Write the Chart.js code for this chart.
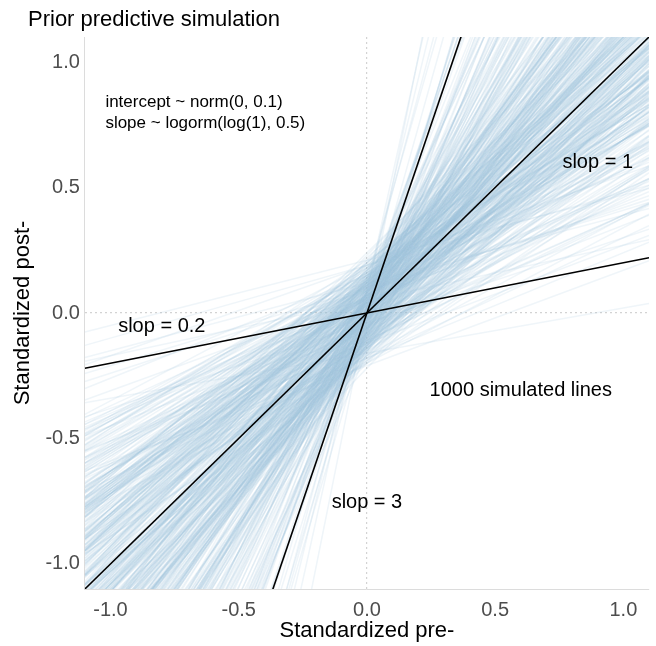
<!DOCTYPE html>
<html>
<head>
<meta charset="utf-8">
<title>Prior predictive simulation</title>
<script src="https://cdn.jsdelivr.net/npm/chart.js@4.4.1/dist/chart.umd.min.js"></script>
<style>
  html, body { margin: 0; padding: 0; background: #ffffff; }
  canvas { display: block; }
</style>
</head>
<body>
<canvas id="myChart" width="656" height="646"></canvas>
<script>
// Pendientes de las rectas simuladas (slope ~ lognormal)
const slopes = [
  1.12, 0.84, 1.47, 0.63, 2.10, 0.95, 1.03, 0.71, 1.88, 0.52, 1.26, 0.99,
  0.78, 1.61, 0.91, 2.54, 1.18, 0.67, 1.35, 0.88, 0.44, 1.07, 1.72, 0.81,
  1.29, 0.58, 1.94, 1.01, 0.74, 3.12, 0.93, 1.15, 0.69, 1.42, 0.86, 1.23,
  0.97, 2.31, 0.62, 1.09, 1.53, 0.77, 0.36, 1.38, 1.05, 0.89, 2.02, 0.73,
  1.19, 0.55, 1.66, 0.94, 1.31, 0.82, 2.77, 1.00, 0.66, 1.49, 0.87, 1.14,
  0.48, 1.81, 1.08, 0.76, 1.24, 0.92, 3.65, 0.70, 1.57, 1.02, 0.83, 1.36,
  1.11, 0.60, 2.19, 0.96, 1.44, 0.79, 1.17, 0.41, 1.68, 0.90, 1.27, 0.64,
  1.04, 1.98, 0.75, 1.33, 0.85, 2.45, 1.13, 0.57, 1.21, 0.98, 1.59, 0.72,
  0.31, 1.40, 0.88, 1.06, 1.76, 0.68, 1.25, 0.93, 2.63, 0.80, 1.16, 0.59,
  1.32, 0.99, 1.85, 0.74, 1.10, 0.50, 1.51, 0.86, 4.21, 1.03, 0.65, 1.39,
  0.91, 1.20, 0.54, 1.63, 0.97, 2.08, 0.78, 1.28, 0.46, 1.12, 1.74, 0.84,
  1.07, 0.69, 1.45, 0.95, 2.86, 0.81, 1.19, 0.61, 1.35, 1.01, 0.89, 1.92,
  0.73, 1.14, 0.39, 1.56, 1.04, 0.77, 2.26, 0.94, 1.30, 0.56, 1.09, 1.70,
  0.87, 1.23, 0.66, 3.38, 1.00, 0.83, 1.48, 0.71, 1.16, 0.96, 2.14, 0.62,
  1.37, 0.79, 1.06, 0.49, 1.83, 0.92, 1.22, 0.68, 1.60, 1.02, 0.85, 2.40,
  0.58, 1.13, 0.90, 1.41, 0.75, 1.96, 1.08, 0.34, 1.27, 0.98, 1.65, 0.80,
  1.18, 0.63, 2.58, 0.88, 1.34, 1.05, 0.53, 1.52, 0.93, 1.79, 0.70, 1.11,
  0.97, 1.43, 0.76, 2.05, 1.15, 0.60, 1.26, 0.86, 3.02, 1.03, 0.72, 1.55,
  0.82, 1.08, 0.45, 1.67, 0.95, 1.31, 0.67, 2.22, 0.99, 1.20, 0.57, 1.46,
  1.24, 0.74, 1.89, 0.91, 0.43, 1.38, 1.06, 0.84, 2.69, 0.64, 1.17, 0.89,
  0.94, 1.36, 0.71, 1.09, 2.33, 0.58, 1.21, 0.86, 1.62, 0.27, 1.03, 0.79,
  1.48, 0.92, 0.65, 1.27, 1.01, 3.48, 0.83, 1.14, 0.52, 1.73, 0.97, 1.30,
  0.69, 1.06, 2.01, 0.88, 1.41, 0.76, 0.22, 1.18, 0.95, 1.58, 0.62, 2.47,
  1.11, 0.81, 1.33, 0.47, 1.00, 1.84, 0.73, 1.25, 0.90, 4.62, 1.07, 0.66,
  1.52, 0.85, 1.16, 0.59, 2.16, 0.98, 1.39, 0.74, 1.04, 0.42, 1.69, 0.89,
  1.23, 0.68, 2.72, 0.93, 1.12, 0.55, 1.46, 0.80, 1.02, 1.95, 0.63, 1.29,
  0.87, 1.19, 0.38, 1.55, 0.96, 2.29, 0.72, 1.08, 1.34, 0.51, 1.77, 0.91,
  1.05, 0.64, 1.43, 0.83, 3.26, 1.13, 0.70, 1.28, 0.18, 0.99, 1.61, 0.78,
  1.37, 0.94, 2.11, 0.61, 1.17, 0.86, 1.50, 0.45, 1.09, 2.52, 0.75, 1.22,
  0.89, 1.32, 0.57, 1.80, 1.01, 0.68, 1.26, 0.93, 3.84, 0.80, 1.14, 0.50,
  1.64, 0.96, 1.10, 0.73, 2.37, 1.03, 0.60, 1.44, 0.85, 1.20, 0.33, 1.91,
  0.77, 1.15, 0.92, 1.57, 0.66, 1.06, 2.64, 0.82, 1.35, 0.54, 1.00, 1.71,
  1.27, 0.71, 1.87, 0.97, 0.40, 1.12, 1.49, 0.79, 2.93, 0.88, 1.18, 0.62,
  1.02, 1.40, 0.69, 1.24, 0.84, 2.06, 0.95, 0.48, 1.31, 1.08, 0.75, 1.66,
  0.90, 2.43, 0.56, 1.16, 1.04, 0.81, 1.54, 0.26, 1.22, 0.94, 1.97, 0.67,
  1.33, 0.86, 1.07, 0.63, 1.75, 0.99, 3.57, 0.77, 1.13, 0.44, 1.42, 0.91,
  0.74, 1.29, 0.96, 2.24, 0.58, 1.11, 0.83, 1.60, 1.01, 0.70, 1.20, 2.81,
  1.45, 0.65, 1.05, 0.89, 1.36, 0.37, 1.82, 0.93, 1.17, 0.79, 2.12, 1.00,
  0.61, 1.25, 0.87, 1.51, 0.72, 5.10, 1.09, 0.54, 1.38, 0.98, 0.82, 1.70,
  1.14, 0.76, 2.35, 0.95, 1.28, 0.60, 1.03, 1.47, 0.84, 0.29, 1.21, 1.90
];

// Interceptos de las mismas rectas (intercept ~ normal)
const intercepts = [
  0.03, -0.12, 0.07, 0.15, -0.04, 0.09, -0.18, 0.01, -0.07, 0.11, -0.02, 0.05,
  -0.09, 0.02, 0.13, -0.06, 0.21, -0.01, 0.08, -0.14, 0.04, -0.10, 0.06, -0.03,
  0.12, -0.05, 0.00, 0.17, -0.11, 0.03, -0.08, 0.10, -0.20, 0.07, -0.02, 0.14,
  -0.06, 0.09, -0.15, 0.04, 0.01, -0.09, 0.19, -0.03, 0.11, -0.13, 0.06, 0.02,
  0.08, -0.17, 0.05, -0.01, 0.13, 0.10, -0.07, 0.24, -0.04, 0.00, -0.12, 0.07,
  -0.02, 0.16, -0.10, 0.03, -0.06, 0.12, 0.01, -0.19, 0.08, -0.05, 0.14, -0.08,
  0.05, -0.03, 0.10, -0.14, 0.02, 0.07, -0.11, 0.15, -0.01, 0.09, -0.06, 0.18,
  -0.13, 0.04, 0.11, -0.07, 0.00, -0.02, 0.20, -0.09, 0.06, 0.13, -0.16, 0.03,
  0.10, -0.04, 0.07, -0.22, 0.05, 0.01, -0.10, 0.12, -0.03, 0.08, -0.13, 0.16,
  -0.01, 0.11, -0.08, 0.04, 0.14, -0.05, 0.02, -0.17, 0.09, -0.12, 0.06, 0.00,
  0.07, -0.10, 0.19, -0.02, 0.05, -0.14, 0.10, 0.03, -0.07, 0.15, 0.01, -0.04,
  -0.11, 0.06, -0.03, 0.12, 0.08, -0.19, 0.04, -0.06, 0.17, -0.01, 0.09, -0.08,
  0.02, 0.13, -0.12, 0.06, -0.09, 0.11, 0.00, 0.22, -0.05, 0.04, -0.15, 0.08,
  0.14, -0.07, 0.03, -0.04, 0.10, 0.05, -0.13, 0.07, -0.02, -0.18, 0.12, 0.01,
  -0.06, 0.09, 0.16, -0.11, 0.02, -0.03, 0.06, 0.13, -0.09, 0.04, 0.20, -0.05,
  0.11, -0.01, -0.16, 0.08, 0.03, -0.08, 0.15, -0.04, 0.05, 0.12, -0.10, 0.00,
  -0.03, 0.07, 0.01, -0.12, 0.18, -0.06, 0.10, 0.02, -0.14, 0.06, -0.02, 0.09,
  0.04, -0.09, 0.13, 0.00, -0.05, 0.17, -0.11, 0.08, 0.03, -0.20, 0.11, -0.07,
  0.09, 0.02, -0.06, 0.14, -0.13, 0.05, 0.21, -0.02, 0.10, -0.08, 0.03, -0.15,
  -0.04, 0.12, 0.06, -0.10, 0.01, 0.08, -0.17, 0.13, -0.01, 0.07, -0.12, 0.04,
  -0.05, 0.10, 0.02, -0.13, 0.07, 0.16, -0.08, 0.04, -0.01, 0.12, -0.19, 0.06,
  0.01, -0.11, 0.14, 0.05, -0.03, -0.07, 0.20, -0.15, 0.09, 0.00, -0.06, 0.11,
  -0.14, 0.03, 0.08, -0.02, -0.10, 0.13, 0.05, -0.04, 0.17, -0.12, 0.07, 0.02,
  0.06, -0.16, 0.00, 0.10, -0.08, 0.04, 0.15, -0.11, -0.02, 0.09, 0.23, -0.06,
  -0.09, 0.12, -0.01, 0.18, 0.03, -0.13, 0.06, -0.05, 0.11, -0.18, 0.01, 0.08,
  0.13, -0.04, 0.09, -0.15, 0.00, 0.07, -0.10, 0.16, -0.06, 0.02, -0.12, 0.05,
  -0.02, 0.08, -0.21, 0.04, 0.11, -0.07, 0.01, 0.14, -0.09, 0.06, -0.03, 0.19,
  0.10, -0.12, 0.05, 0.15, -0.01, -0.08, 0.03, 0.09, -0.16, 0.12, -0.04, 0.00,
  -0.07, 0.14, 0.02, -0.10, 0.06, 0.18, -0.13, 0.04, -0.02, 0.08, 0.11, -0.05,
  0.03, -0.09, 0.12, 0.00, -0.14, 0.07, 0.05, -0.06, 0.10, -0.01, 0.16, -0.11,
  0.08, 0.01, -0.17, 0.06, -0.04, 0.13, -0.08, 0.02, 0.20, -0.12, 0.09, -0.03,
  -0.10, 0.05, 0.17, -0.06, 0.03, -0.14, 0.11, 0.00, -0.07, 0.15, -0.02, 0.07,
  0.04, -0.13, 0.08, 0.12, -0.05, 0.01, -0.09, 0.19, 0.06, -0.03, -0.11, 0.10,
  -0.08, 0.02, 0.15, -0.01, 0.09, -0.12, 0.05, -0.18, 0.13, 0.00, 0.07, -0.04,
  0.12, -0.06, 0.03, 0.08, -0.15, 0.11, -0.02, 0.21, 0.04, -0.09, 0.01, 0.14,
  -0.03, 0.10, -0.11, 0.06, 0.02, -0.07, 0.13, -0.14, 0.09, 0.05, -0.01, 0.17,
  0.07, -0.02, 0.11, -0.16, 0.04, 0.00, 0.18, -0.05, 0.08, -0.10, 0.12, 0.03,
  -0.12, 0.09, 0.01, -0.07, 0.14, 0.06, -0.04, 0.10, -0.13, 0.02, 0.05, -0.09,
  0.16, -0.05, 0.07, 0.03, -0.11, 0.00, 0.12, -0.20, 0.08, -0.02, 0.13, -0.07,
  0.00, 0.06, -0.10, 0.15, -0.06, 0.11, 0.02, -0.14, 0.04, 0.19, -0.08, 0.09
];

// Rectas de referencia por el origen
const refSlopes = [1, 0.2, 3];

// Marcas de los ejes y limites
const xTicks = [-1, -0.5, 0, 0.5, 1];
const yTicks = [-1, -0.5, 0, 0.5, 1];
const xRange = [-1.1, 1.1];
const yRange = [-1.1, 1.1];

const FONT = "'Liberation Sans', Arial, Helvetica, sans-serif";

// Textos dentro del panel (en coordenadas de datos)
const notas = [
  { text: 'intercept ~ norm(0, 0.1)', x: -1.02, y: 0.84, align: 'left', size: 17 },
  { text: 'slope ~ logorm(log(1), 0.5)', x: -1.02, y: 0.755, align: 'left', size: 17 },
  { text: 'slop = 1', x: 0.9, y: 0.6, align: 'center', size: 20 },
  { text: 'slop = 0.2', x: -0.8, y: -0.055, align: 'center', size: 20 },
  { text: 'slop = 3', x: 0.0, y: -0.757, align: 'center', size: 20 },
  { text: '1000 simulated lines', x: 0.6, y: -0.307, align: 'center', size: 20 }
];

// Extremos de una recta y = b + a*x dentro del rango de x
function recta(a, b) {
  return xRange.map(x => ({ x: x, y: b + a * x }));
}

const datasets = [];

slopes.forEach((a, i) => {
  datasets.push({
    data: recta(a, intercepts[i]),
    borderColor: 'rgba(158, 193, 218, 0.17)',
    borderWidth: 1.5,
    pointRadius: 0,
    order: 2
  });
});

refSlopes.forEach(a => {
  datasets.push({
    data: recta(a, 0),
    borderColor: '#000000',
    borderWidth: 1.6,
    pointRadius: 0,
    order: 1
  });
});

// Titulo, titulo del eje x y anotaciones
const textosPlugin = {
  id: 'textos',
  afterDatasetsDraw(chart) {
    const ctx = chart.ctx;
    const xs = chart.scales.x;
    const ys = chart.scales.y;
    const area = chart.chartArea;
    ctx.save();
    ctx.fillStyle = '#000000';
    ctx.textBaseline = 'middle';
    notas.forEach(n => {
      ctx.font = n.size + 'px ' + FONT;
      ctx.textAlign = n.align;
      ctx.fillText(n.text, xs.getPixelForValue(n.x), ys.getPixelForValue(n.y));
    });
    ctx.font = '22px ' + FONT;
    ctx.textAlign = 'center';
    ctx.fillText('Standardized pre-', (area.left + area.right) / 2, 631);
    ctx.textAlign = 'left';
    ctx.textBaseline = 'alphabetic';
    ctx.fillText('Prior predictive simulation', 28, 26);
    ctx.restore();
  }
};

function zeroGrid(ctx) {
  return ctx.tick && ctx.tick.value === 0 ? '#d3d3d3' : 'rgba(0,0,0,0)';
}

const ctx = document.getElementById('myChart').getContext('2d');
const chart = new Chart(ctx, {
  type: 'line',
  data: { datasets: datasets },
  options: {
    responsive: false,
    animation: false,
    events: [],
    layout: { padding: { top: 37, left: 4, right: 7, bottom: 15 } },
    plugins: {
      legend: { display: false },
      tooltip: { enabled: false },
      title: { display: false }
    },
    scales: {
      x: {
        type: 'linear',
        min: xRange[0],
        max: xRange[1],
        afterBuildTicks: s => { s.ticks = xTicks.map(v => ({ value: v })); },
        grid: { color: zeroGrid, lineWidth: 1.2, drawTicks: false },
        border: { display: true, color: '#dcdcdc', width: 1, dash: [2, 3] },
        ticks: {
          color: '#4d4d4d',
          padding: 11,
          font: { family: FONT, size: 20, lineHeight: 1 },
          callback: v => v.toFixed(1)
        }
      },
      y: {
        type: 'linear',
        min: yRange[0],
        max: yRange[1],
        afterBuildTicks: s => { s.ticks = yTicks.map(v => ({ value: v })); },
        grid: { color: zeroGrid, lineWidth: 1.2, drawTicks: false },
        border: { display: true, color: '#dcdcdc', width: 1, dash: [2, 3] },
        ticks: {
          color: '#4d4d4d',
          padding: 5,
          font: { family: FONT, size: 20, lineHeight: 1.2 },
          callback: v => v.toFixed(1)
        },
        title: {
          display: true,
          text: 'Standardized post-',
          color: '#000000',
          font: { family: FONT, size: 22, lineHeight: 1.2 },
          padding: { top: 6, bottom: 4 }
        }
      }
    }
  },
  plugins: [textosPlugin]
});
</script>
</body>
</html>
